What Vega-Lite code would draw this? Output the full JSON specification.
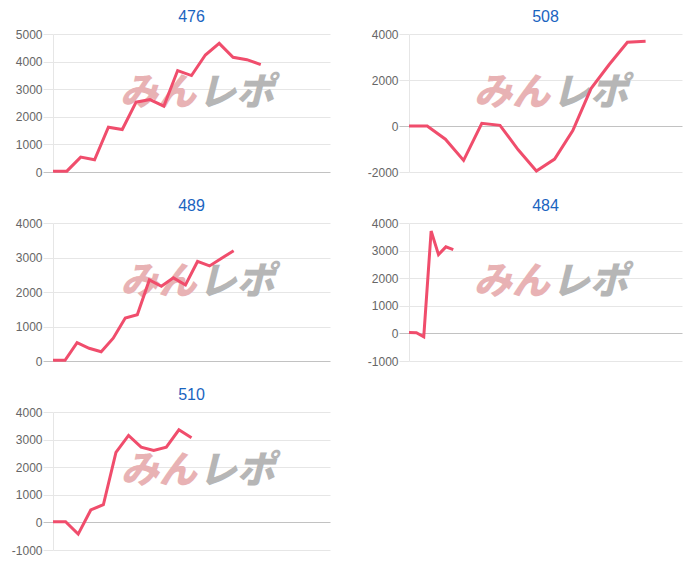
{
  "$schema": "https://vega.github.io/schema/vega-lite/v6.json",
  "background": "white",
  "padding": {"left": 11, "top": 9, "right": 5, "bottom": 5},
  "columns": 2,
  "bounds": "flush",
  "spacing": {"row": 51, "column": 79},
  "datasets": {
    "pts": [
      {"m": "476", "i": 0, "v": 30}, {"m": "476", "i": 1, "v": 30}, {"m": "476", "i": 2, "v": 540}, {"m": "476", "i": 3, "v": 445},
      {"m": "476", "i": 4, "v": 1625}, {"m": "476", "i": 5, "v": 1540}, {"m": "476", "i": 6, "v": 2530}, {"m": "476", "i": 7, "v": 2625},
      {"m": "476", "i": 8, "v": 2385}, {"m": "476", "i": 9, "v": 3675}, {"m": "476", "i": 10, "v": 3495}, {"m": "476", "i": 11, "v": 4240},
      {"m": "476", "i": 12, "v": 4660}, {"m": "476", "i": 13, "v": 4155}, {"m": "476", "i": 14, "v": 4070}, {"m": "476", "i": 15, "v": 3890},
      {"m": "508", "i": 0, "v": 0}, {"m": "508", "i": 1, "v": 0}, {"m": "508", "i": 2, "v": -575}, {"m": "508", "i": 3, "v": -1495},
      {"m": "508", "i": 4, "v": 115}, {"m": "508", "i": 5, "v": 30}, {"m": "508", "i": 6, "v": -1035}, {"m": "508", "i": 7, "v": -1955},
      {"m": "508", "i": 8, "v": -1440}, {"m": "508", "i": 9, "v": -200}, {"m": "508", "i": 10, "v": 1625}, {"m": "508", "i": 11, "v": 2675},
      {"m": "508", "i": 12, "v": 3640}, {"m": "508", "i": 13, "v": 3685},
      {"m": "489", "i": 0, "v": 20}, {"m": "489", "i": 1, "v": 20}, {"m": "489", "i": 2, "v": 535}, {"m": "489", "i": 3, "v": 370},
      {"m": "489", "i": 4, "v": 270}, {"m": "489", "i": 5, "v": 660}, {"m": "489", "i": 6, "v": 1245}, {"m": "489", "i": 7, "v": 1340},
      {"m": "489", "i": 8, "v": 2350}, {"m": "489", "i": 9, "v": 2165}, {"m": "489", "i": 10, "v": 2410}, {"m": "489", "i": 11, "v": 2205},
      {"m": "489", "i": 12, "v": 2885}, {"m": "489", "i": 13, "v": 2755}, {"m": "489", "i": 14, "v": 2980}, {"m": "489", "i": 15, "v": 3195},
      {"m": "484", "i": 0, "v": 35}, {"m": "484", "i": 1, "v": 25}, {"m": "484", "i": 2, "v": -120}, {"m": "484", "i": 3, "v": 3710},
      {"m": "484", "i": 4, "v": 2855}, {"m": "484", "i": 5, "v": 3135}, {"m": "484", "i": 6, "v": 3035},
      {"m": "510", "i": 0, "v": 25}, {"m": "510", "i": 1, "v": 25}, {"m": "510", "i": 2, "v": -425}, {"m": "510", "i": 3, "v": 450},
      {"m": "510", "i": 4, "v": 640}, {"m": "510", "i": 5, "v": 2540}, {"m": "510", "i": 6, "v": 3150}, {"m": "510", "i": 7, "v": 2725},
      {"m": "510", "i": 8, "v": 2605}, {"m": "510", "i": 9, "v": 2725}, {"m": "510", "i": 10, "v": 3355}, {"m": "510", "i": 11, "v": 3065}
    ],
    "wm": [{"logo": "みんレポ"}]
  },
  "concat": [
    {
      "title": "476", "width": 277, "height": 138,
      "layer": [
        {"data": {"name": "wm"}, "mark": {"type": "text", "text": "みん", "align": "right", "baseline": "middle", "dx": -1, "font": "Noto Sans CJK JP", "fontSize": 38, "fontWeight": 900, "fontStyle": "italic", "color": "#e8b2b4"},
         "encoding": {"x": {"datum": 10.4, "type": "quantitative"}, "y": {"datum": 2825, "type": "quantitative"}}},
        {"data": {"name": "wm"}, "mark": {"type": "text", "text": "レポ", "align": "left", "baseline": "middle", "dx": 1, "font": "Noto Sans CJK JP", "fontSize": 38, "fontWeight": 900, "fontStyle": "italic", "color": "#b6b6b6"},
         "encoding": {"x": {"datum": 10.4, "type": "quantitative"}, "y": {"datum": 2825, "type": "quantitative"}}},
        {"data": {"name": "pts"}, "transform": [{"filter": "datum.m === '476'"}],
         "mark": {"type": "line", "color": "#f04d6c", "strokeWidth": 3},
         "encoding": {
           "x": {"field": "i", "type": "quantitative", "scale": {"domain": [0, 20], "nice": false}, "axis": {"title": null, "labels": false, "ticks": false, "grid": false, "domain": false}},
           "y": {"field": "v", "type": "quantitative", "scale": {"domain": [0, 5000], "nice": false}, "axis": {"title": null, "values": [0, 1000, 2000, 3000, 4000, 5000], "tickCount": 20, "labelOverlap": false, "labelExpr": "'' + datum.value", "gridColor": {"condition": {"test": "datum.value === 0", "value": "#c2c2c2"}, "value": "#e6e6e6"}, "tickColor": {"condition": {"test": "datum.value === 0", "value": "#c2c2c2"}, "value": "#e6e6e6"}}}}}
      ]
    },
    {
      "title": "508", "width": 273, "height": 138,
      "layer": [
        {"data": {"name": "wm"}, "mark": {"type": "text", "text": "みん", "align": "right", "baseline": "middle", "dx": -1, "font": "Noto Sans CJK JP", "fontSize": 38, "fontWeight": 900, "fontStyle": "italic", "color": "#e8b2b4"},
         "encoding": {"x": {"datum": 7.8, "type": "quantitative"}, "y": {"datum": 1390, "type": "quantitative"}}},
        {"data": {"name": "wm"}, "mark": {"type": "text", "text": "レポ", "align": "left", "baseline": "middle", "dx": 1, "font": "Noto Sans CJK JP", "fontSize": 38, "fontWeight": 900, "fontStyle": "italic", "color": "#b6b6b6"},
         "encoding": {"x": {"datum": 7.8, "type": "quantitative"}, "y": {"datum": 1390, "type": "quantitative"}}},
        {"data": {"name": "pts"}, "transform": [{"filter": "datum.m === '508'"}],
         "mark": {"type": "line", "color": "#f04d6c", "strokeWidth": 3},
         "encoding": {
           "x": {"field": "i", "type": "quantitative", "scale": {"domain": [0, 15], "nice": false}, "axis": {"title": null, "labels": false, "ticks": false, "grid": false, "domain": false}},
           "y": {"field": "v", "type": "quantitative", "scale": {"domain": [-2000, 4000], "nice": false}, "axis": {"title": null, "values": [-2000, 0, 2000, 4000], "tickCount": 20, "labelOverlap": false, "labelExpr": "'' + datum.value", "gridColor": {"condition": {"test": "datum.value === 0", "value": "#c2c2c2"}, "value": "#e6e6e6"}, "tickColor": {"condition": {"test": "datum.value === 0", "value": "#c2c2c2"}, "value": "#e6e6e6"}}}}}
      ]
    },
    {
      "title": "489", "width": 277, "height": 138,
      "layer": [
        {"data": {"name": "wm"}, "mark": {"type": "text", "text": "みん", "align": "right", "baseline": "middle", "dx": -1, "font": "Noto Sans CJK JP", "fontSize": 38, "fontWeight": 900, "fontStyle": "italic", "color": "#e8b2b4"},
         "encoding": {"x": {"datum": 12.0, "type": "quantitative"}, "y": {"datum": 2260, "type": "quantitative"}}},
        {"data": {"name": "wm"}, "mark": {"type": "text", "text": "レポ", "align": "left", "baseline": "middle", "dx": 1, "font": "Noto Sans CJK JP", "fontSize": 38, "fontWeight": 900, "fontStyle": "italic", "color": "#b6b6b6"},
         "encoding": {"x": {"datum": 12.0, "type": "quantitative"}, "y": {"datum": 2260, "type": "quantitative"}}},
        {"data": {"name": "pts"}, "transform": [{"filter": "datum.m === '489'"}],
         "mark": {"type": "line", "color": "#f04d6c", "strokeWidth": 3},
         "encoding": {
           "x": {"field": "i", "type": "quantitative", "scale": {"domain": [0, 23], "nice": false}, "axis": {"title": null, "labels": false, "ticks": false, "grid": false, "domain": false}},
           "y": {"field": "v", "type": "quantitative", "scale": {"domain": [0, 4000], "nice": false}, "axis": {"title": null, "values": [0, 1000, 2000, 3000, 4000], "tickCount": 20, "labelOverlap": false, "labelExpr": "'' + datum.value", "gridColor": {"condition": {"test": "datum.value === 0", "value": "#c2c2c2"}, "value": "#e6e6e6"}, "tickColor": {"condition": {"test": "datum.value === 0", "value": "#c2c2c2"}, "value": "#e6e6e6"}}}}}
      ]
    },
    {
      "title": "484", "width": 273, "height": 138,
      "layer": [
        {"data": {"name": "wm"}, "mark": {"type": "text", "text": "みん", "align": "right", "baseline": "middle", "dx": -1, "font": "Noto Sans CJK JP", "fontSize": 38, "fontWeight": 900, "fontStyle": "italic", "color": "#e8b2b4"},
         "encoding": {"x": {"datum": 19.2, "type": "quantitative"}, "y": {"datum": 1825, "type": "quantitative"}}},
        {"data": {"name": "wm"}, "mark": {"type": "text", "text": "レポ", "align": "left", "baseline": "middle", "dx": 1, "font": "Noto Sans CJK JP", "fontSize": 38, "fontWeight": 900, "fontStyle": "italic", "color": "#b6b6b6"},
         "encoding": {"x": {"datum": 19.2, "type": "quantitative"}, "y": {"datum": 1825, "type": "quantitative"}}},
        {"data": {"name": "pts"}, "transform": [{"filter": "datum.m === '484'"}],
         "mark": {"type": "line", "color": "#f04d6c", "strokeWidth": 3},
         "encoding": {
           "x": {"field": "i", "type": "quantitative", "scale": {"domain": [0, 37], "nice": false}, "axis": {"title": null, "labels": false, "ticks": false, "grid": false, "domain": false}},
           "y": {"field": "v", "type": "quantitative", "scale": {"domain": [-1000, 4000], "nice": false}, "axis": {"title": null, "values": [-1000, 0, 1000, 2000, 3000, 4000], "tickCount": 20, "labelOverlap": false, "labelExpr": "'' + datum.value", "gridColor": {"condition": {"test": "datum.value === 0", "value": "#c2c2c2"}, "value": "#e6e6e6"}, "tickColor": {"condition": {"test": "datum.value === 0", "value": "#c2c2c2"}, "value": "#e6e6e6"}}}}}
      ]
    },
    {
      "title": "510", "width": 277, "height": 138,
      "layer": [
        {"data": {"name": "wm"}, "mark": {"type": "text", "text": "みん", "align": "right", "baseline": "middle", "dx": -1, "font": "Noto Sans CJK JP", "fontSize": 38, "fontWeight": 900, "fontStyle": "italic", "color": "#e8b2b4"},
         "encoding": {"x": {"datum": 11.5, "type": "quantitative"}, "y": {"datum": 1825, "type": "quantitative"}}},
        {"data": {"name": "wm"}, "mark": {"type": "text", "text": "レポ", "align": "left", "baseline": "middle", "dx": 1, "font": "Noto Sans CJK JP", "fontSize": 38, "fontWeight": 900, "fontStyle": "italic", "color": "#b6b6b6"},
         "encoding": {"x": {"datum": 11.5, "type": "quantitative"}, "y": {"datum": 1825, "type": "quantitative"}}},
        {"data": {"name": "pts"}, "transform": [{"filter": "datum.m === '510'"}],
         "mark": {"type": "line", "color": "#f04d6c", "strokeWidth": 3},
         "encoding": {
           "x": {"field": "i", "type": "quantitative", "scale": {"domain": [0, 22], "nice": false}, "axis": {"title": null, "labels": false, "ticks": false, "grid": false, "domain": false}},
           "y": {"field": "v", "type": "quantitative", "scale": {"domain": [-1000, 4000], "nice": false}, "axis": {"title": null, "values": [-1000, 0, 1000, 2000, 3000, 4000], "tickCount": 20, "labelOverlap": false, "labelExpr": "'' + datum.value", "gridColor": {"condition": {"test": "datum.value === 0", "value": "#c2c2c2"}, "value": "#e6e6e6"}, "tickColor": {"condition": {"test": "datum.value === 0", "value": "#c2c2c2"}, "value": "#e6e6e6"}}}}}
      ]
    }
  ],
  "config": {
    "view": {"stroke": null},
    "font": "Liberation Sans",
    "title": {"fontSize": 16, "fontWeight": "normal", "color": "#1a64bf", "font": "Liberation Sans", "offset": 3},
    "axisY": {"grid": true, "gridWidth": 1, "tickSize": 10, "tickWidth": 1, "labelPadding": 1, "labelOverlap": false, "domain": true, "domainColor": "#e6e6e6", "labelColor": "#666666", "labelFontSize": 12, "labelFont": "Liberation Sans"}
  }
}
